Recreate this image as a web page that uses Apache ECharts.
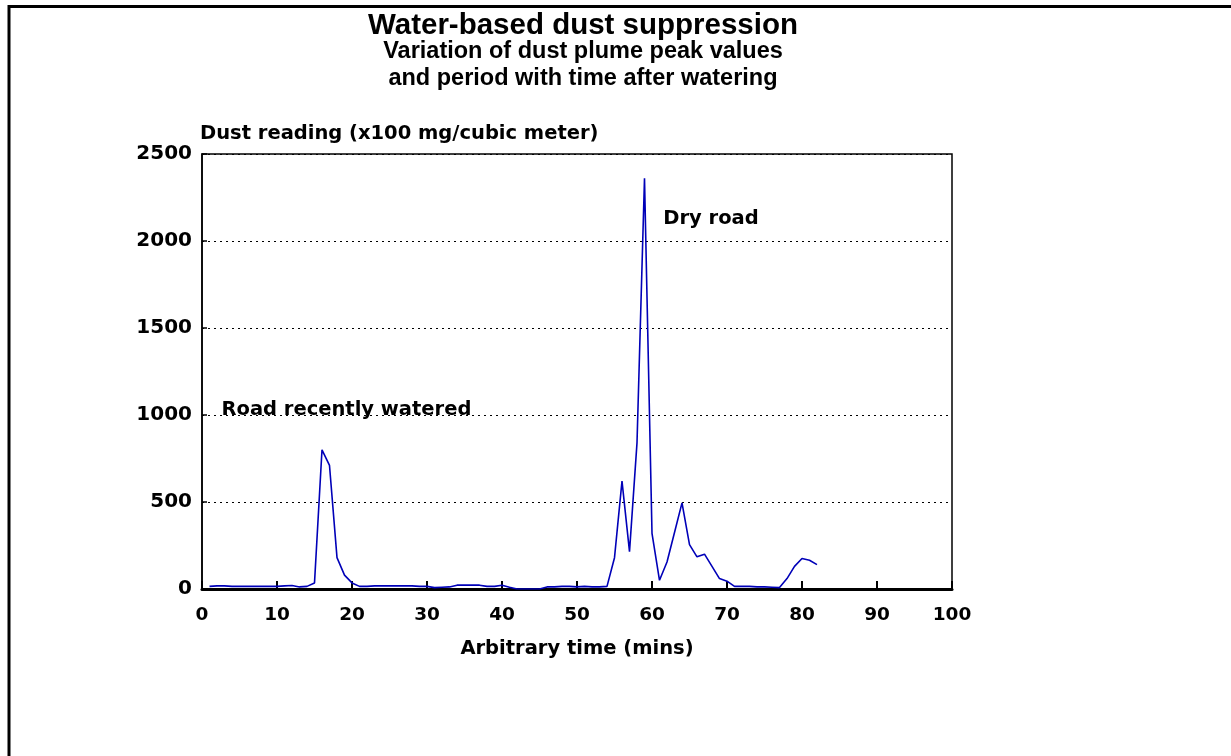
<!DOCTYPE html>
<html>
<head>
<meta charset="utf-8">
<script src="https://cdn.jsdelivr.net/npm/echarts@6/dist/echarts.min.js"></script>
<style>
html,body{margin:0;padding:0;background:#fff;}
#chart{width:1231px;height:756px;}
</style>
</head>
<body>
<div id="chart"></div>
<script>
var titleText = 'Water-based dust suppression';
var subtitleText = 'Variation of dust plume peak values\nand period with time after watering';
var xAxisName = 'Arbitrary time (mins)';
var yAxisName = 'Dust reading (x100 mg/cubic meter)';
var annotations = [
  {text: 'Road recently watered', x: 2.6, y: 1030},
  {text: 'Dry road', x: 61.5, y: 2125}
];
var minutes = [1,2,3,4,5,6,7,8,9,10,11,12,13,14,15,16,17,18,19,20,
  21,22,23,24,25,26,27,28,29,30,31,32,33,34,35,36,37,38,39,40,
  41,42,43,44,45,46,47,48,49,50,51,52,53,54,55,56,57,58,59,60,
  61,62,63,64,65,66,67,68,69,70,71,72,73,74,75,76,77,78,79,80,81,82];
var dust = [15,18,18,15,15,15,15,15,15,15,18,20,12,15,35,800,710,180,80,35,
  15,15,18,18,18,18,18,18,15,15,8,10,12,22,22,22,22,15,15,22,
  10,0,0,0,0,12,12,15,15,12,15,12,12,15,180,620,215,840,2360,320,
  50,155,325,495,255,185,200,130,60,45,15,15,15,12,12,10,8,60,130,175,165,140];

var points = minutes.map(function(m, i){ return [m, dust[i]]; });
var chart = echarts.init(document.getElementById('chart'));
var labelFont = 'DejaVu Sans';
chart.setOption({
  backgroundColor: '#fff',
  animation: false,
  title: {
    text: titleText,
    subtext: subtitleText,
    left: 578,
    textAlign: 'center',
    top: 6,
    itemGap: -3,
    textStyle: {fontFamily: 'Liberation Sans', fontWeight: 'bold', fontSize: 29.5, lineHeight: 30, color: '#000'},
    subtextStyle: {fontFamily: 'Liberation Sans', fontWeight: 'bold', fontSize: 23.5, color: '#000', lineHeight: 27}
  },
  grid: {left: 202, right: 279, top: 154, bottom: 167, show: true, borderColor: '#000', borderWidth: 1.5, backgroundColor: 'transparent'},
  xAxis: {
    type: 'value', min: 0, max: 100, interval: 10,
    name: xAxisName, nameLocation: 'middle', nameGap: 50,
    nameTextStyle: {fontFamily: labelFont, fontWeight: 'bold', fontSize: 19.5, color: '#000'},
    axisLine: {onZero: false, lineStyle: {color: '#000', width: 3}},
    axisTick: {inside: true, length: 8, lineStyle: {color: '#000', width: 2}},
    axisLabel: {margin: 17, fontFamily: labelFont, fontWeight: 'bold', fontSize: 18.5, color: '#000'},
    splitLine: {show: false}
  },
  yAxis: {
    type: 'value', min: 0, max: 2500, interval: 500,
    name: yAxisName, nameLocation: 'end', nameGap: 10,
    nameTextStyle: {fontFamily: labelFont, fontWeight: 'bold', fontSize: 19.5, color: '#000', align: 'left', padding: [0,0,0,-2]},
    axisLine: {show: true, lineStyle: {color: '#000', width: 1.5}},
    axisTick: {show: true, inside: true, length: 5, lineStyle: {color: '#000', width: 1.5}},
    axisLabel: {margin: 10, fontFamily: labelFont, fontWeight: 'bold', fontSize: 20, color: '#000',
      formatter: function(v){ return String(v); }},
    splitLine: {show: true, lineStyle: {color: '#000', type: [2, 4], width: 1.2}}
  },
  series: [{
    type: 'line',
    data: points,
    showSymbol: false,
    symbol: 'none',
    lineStyle: {color: '#0000b8', width: 1.6},
    markPoint: {
      symbol: 'rect', symbolSize: 0,
      label: {show: true, position: 'right', distance: 0, fontFamily: labelFont, fontWeight: 'bold', fontSize: 19.5, color: '#000', formatter: '{b}'},
      data: annotations.map(function(a){ return {name: a.text, coord: [a.x, a.y]}; })
    }
  }],
  graphic: [{
    type: 'rect', silent: true,
    shape: {x: 9, y: 6.5, width: 1400, height: 900},
    style: {fill: 'none', stroke: '#000', lineWidth: 3}
  }]
});
</script>
</body>
</html>
